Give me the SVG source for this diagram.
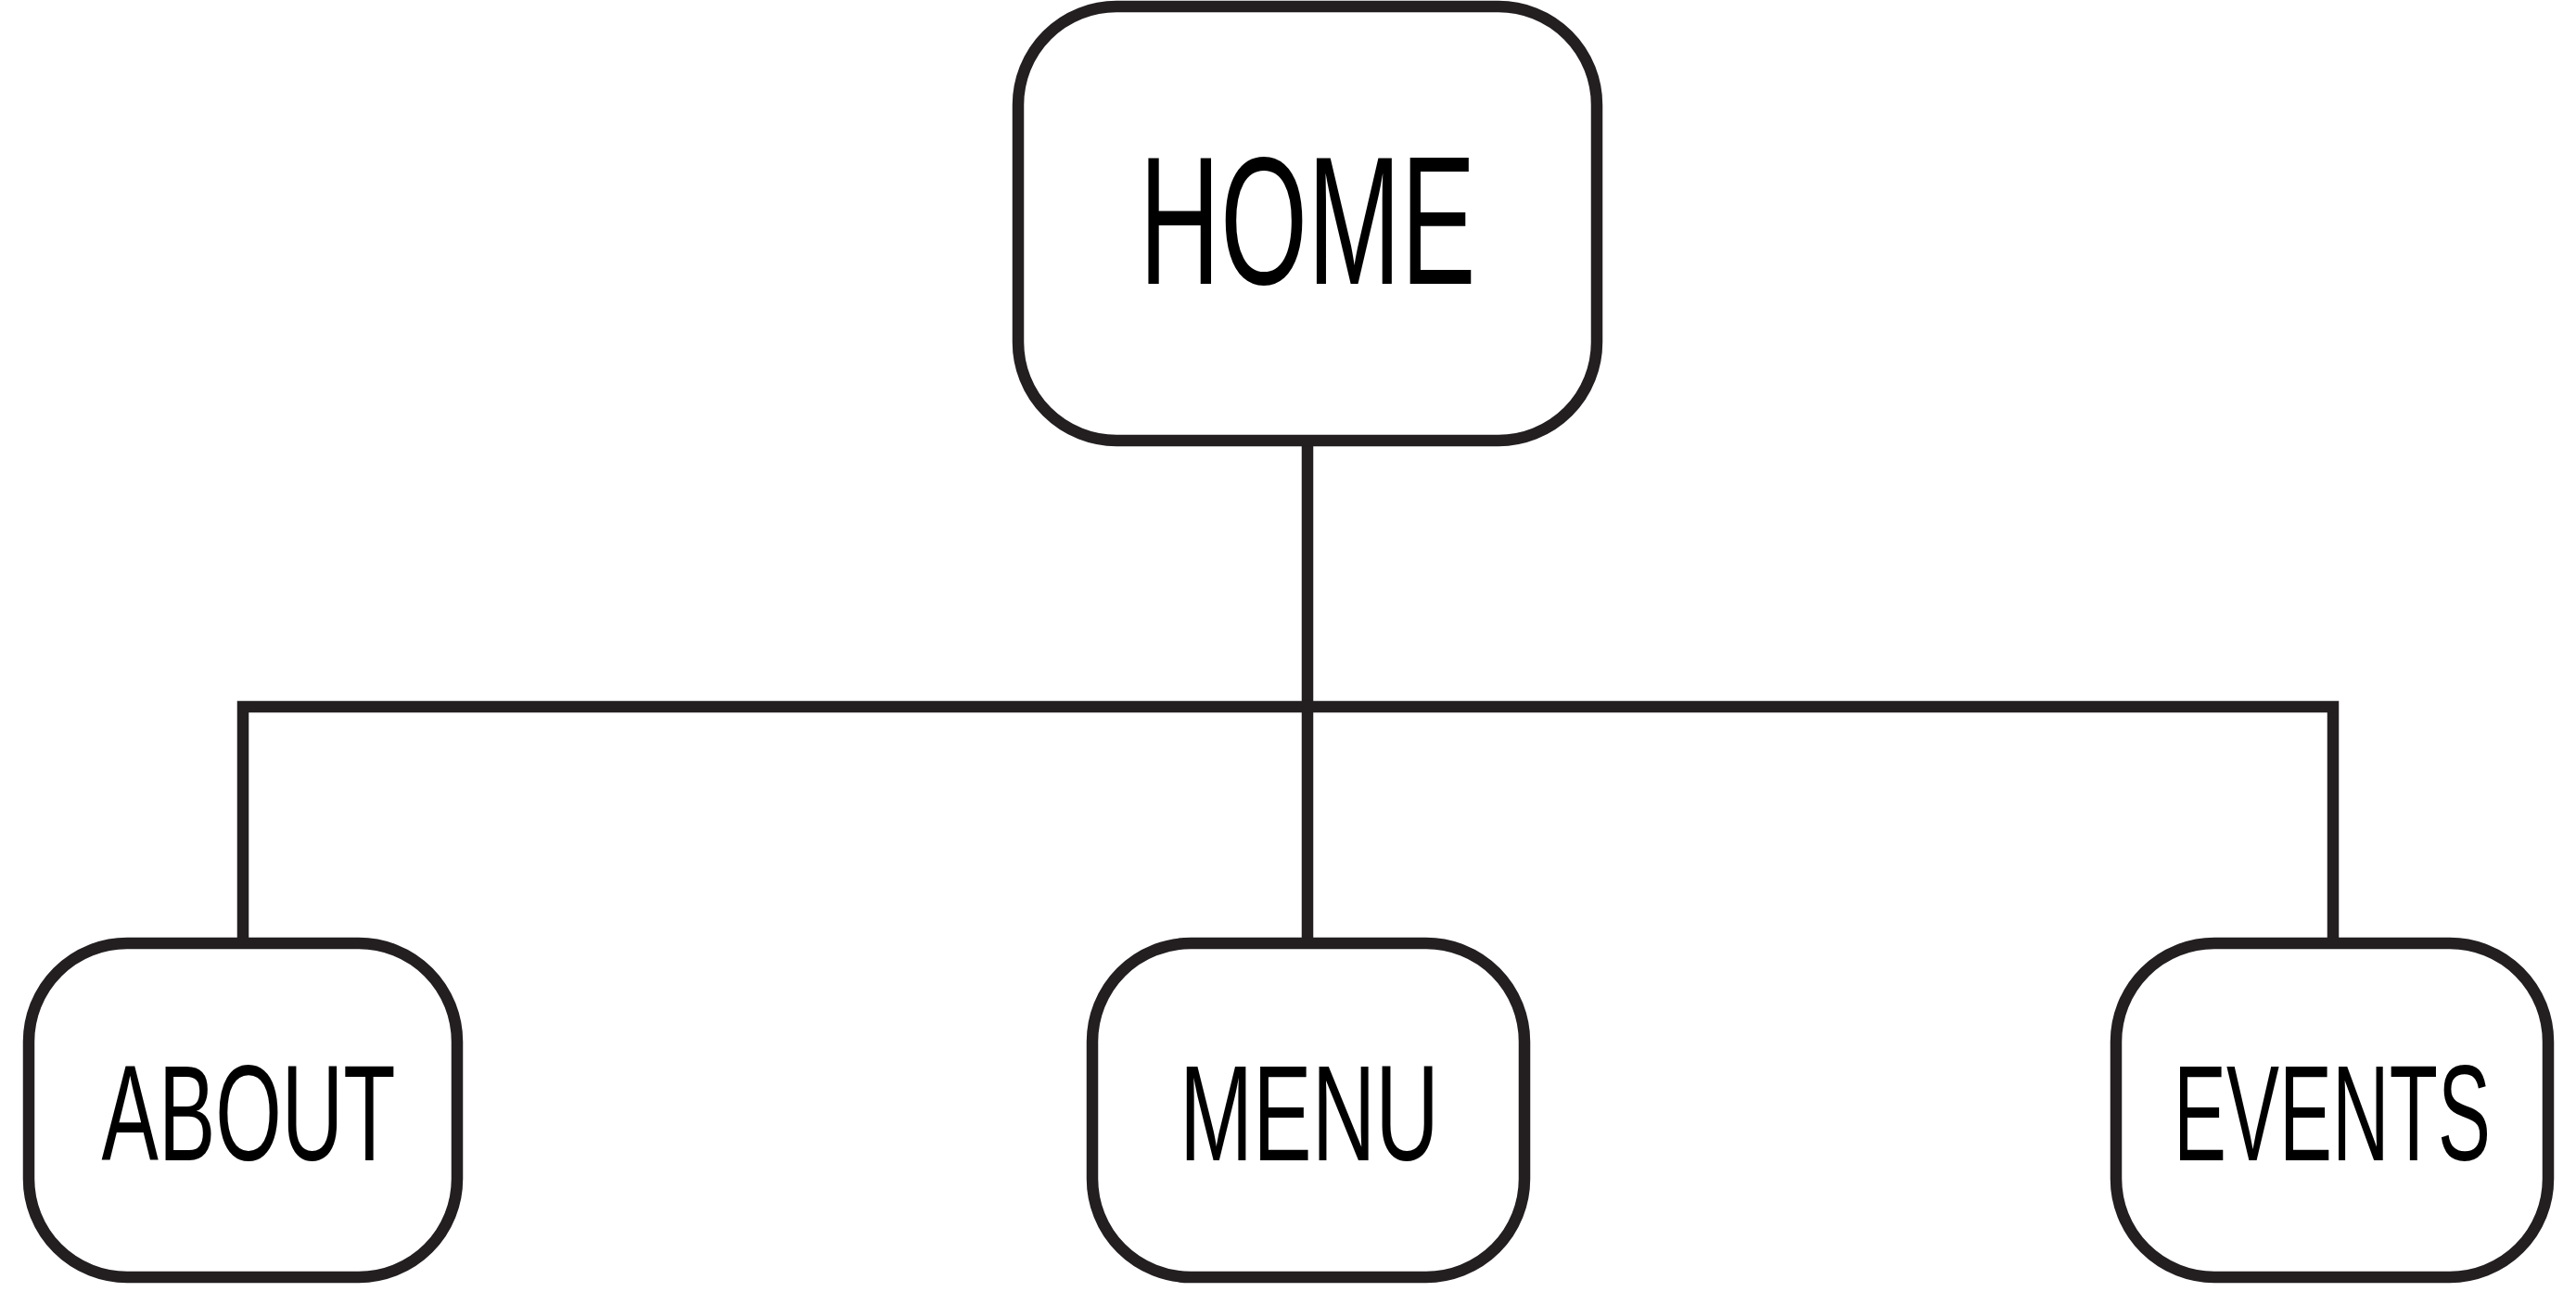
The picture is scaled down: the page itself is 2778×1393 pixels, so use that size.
<svg xmlns="http://www.w3.org/2000/svg" width="2778" height="1393" viewBox="0 0 2778 1393">
<style>
.box{fill:#ffffff;stroke:#231f20;stroke-width:12.5}
.conn{fill:none;stroke:#231f20;stroke-width:12.5;stroke-linejoin:miter}
.lbl{font-family:"Liberation Sans","DejaVu Sans",sans-serif;fill:#000000;text-anchor:middle}
</style>
<rect width="2778" height="1393" fill="#ffffff"/>
<g id="connectors">
<path class="conn" d="M1410,476 V1017"/>
<path class="conn" d="M262,1017 V762 H2516 V1017"/>
</g>
<g id="node-home">
<rect class="box" x="1098" y="7" width="624" height="468" rx="106" ry="106"/>
<text class="lbl" x="1410" y="306" font-size="197" textLength="363" lengthAdjust="spacingAndGlyphs">HOME</text>
</g>
<g id="node-about">
<rect class="box" x="31" y="1017" width="462" height="360" rx="106" ry="106"/>
<text class="lbl" x="268" y="1251" font-size="147" textLength="317" lengthAdjust="spacingAndGlyphs">ABOUT</text>
</g>
<g id="node-menu">
<rect class="box" x="1178" y="1017" width="466" height="360" rx="106" ry="106"/>
<text class="lbl" x="1412" y="1251" font-size="147" textLength="280" lengthAdjust="spacingAndGlyphs">MENU</text>
</g>
<g id="node-events">
<rect class="box" x="2282" y="1017" width="466" height="360" rx="106" ry="106"/>
<text class="lbl" x="2515" y="1251" font-size="147" textLength="342" lengthAdjust="spacingAndGlyphs">EVENTS</text>
</g>
</svg>
